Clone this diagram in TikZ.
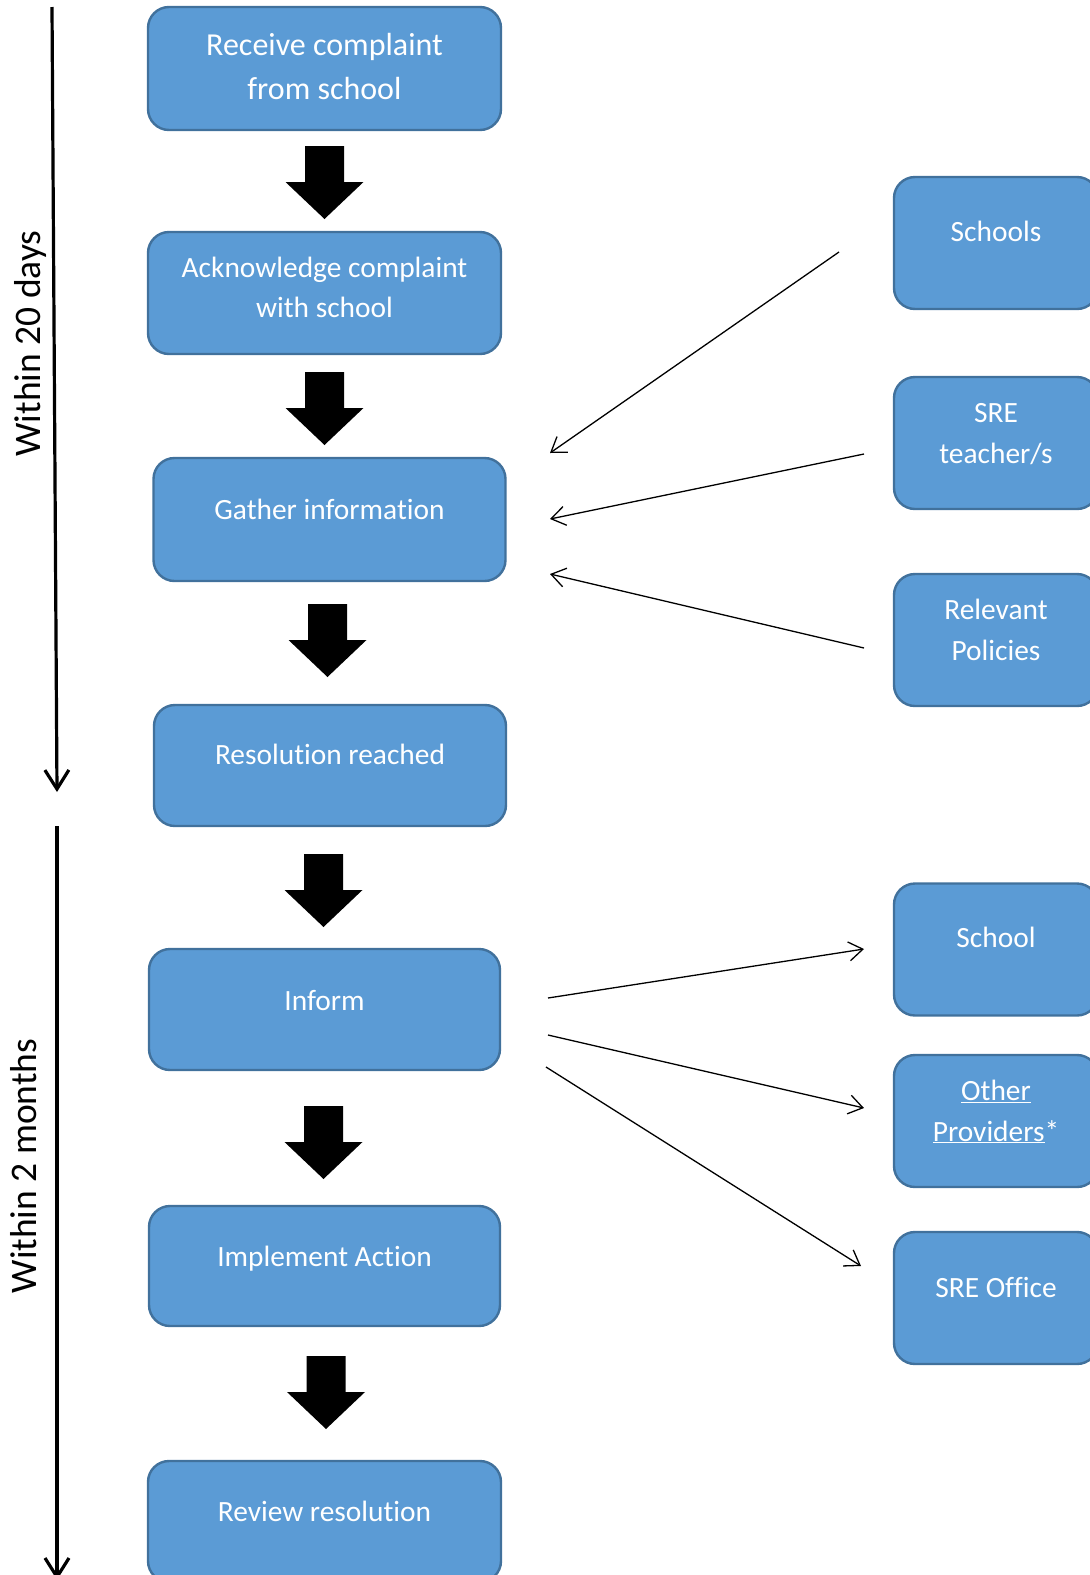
\documentclass[tikz,border=0pt]{standalone}
\usepackage{fontspec}
\setmainfont{Carlito}[Ligatures={NoCommon}]
\usetikzlibrary{arrows.meta}
\definecolor{boxfill}{HTML}{5B9BD5}
\definecolor{boxline}{HTML}{41719C}
\newcommand\blockarr[3]{% name, cx, top
  \fill[black] (#2-19.5,#3) -- (#2+19.5,#3) -- (#2+19.5,#3+36) -- (#2+39,#3+36)
    -- (#2,#3+73) -- (#2-39,#3+36) -- (#2-19.5,#3+36) -- cycle;
  \coordinate (#1) at (#2,#3);}
\begin{document}
\begin{tikzpicture}[x=1pt,y=-1pt,
  mbox/.style={draw=boxline, fill=boxfill, line width=2.4pt, rounded corners=21pt, inner sep=0pt},
  rbox/.style={mbox, minimum width=204pt, minimum height=132pt},
  wtxt/.style={text=white, anchor=base, inner sep=0pt, font=\fontsize{29.4}{40}\selectfont},
  btxt/.style={wtxt, font=\fontsize{32}{44}\selectfont},
  side/.style={anchor=base, rotate=90, inner sep=0pt, font=\fontsize{37.5}{45}\selectfont},
  timeline/.style={line width=3.2pt, -{Straight Barb[length=19pt,width=24pt,line width=3.2pt]}},
  thin/.style={line width=1.3pt, -{Straight Barb[length=14pt,width=19pt,line width=1.3pt]}}]
\useasboundingbox (0,0) rectangle (1090,1575);

% main boxes
\node[mbox, minimum width=353pt, minimum height=123pt] (b1) at (324.5,68.5) {};
\node[mbox, minimum width=353pt, minimum height=122pt] (b2) at (324.5,293) {};
\node[mbox, minimum width=352pt, minimum height=123pt] (b3) at (329.5,519.5) {};
\node[mbox, minimum width=352pt, minimum height=121pt] (b4) at (330,765.5) {};
\node[mbox, minimum width=351pt, minimum height=121pt] (b5) at (324.5,1009.5) {};
\node[mbox, minimum width=351pt, minimum height=120pt] (b6) at (324.5,1266) {};
\node[mbox, minimum width=353pt, minimum height=121pt] (b7) at (324.5,1521.5) {};

\node[btxt] (t1a) at (324.5,55) {Receive complaint};
\node[btxt] (t1b) at (324.5,99) {from school};
\node[wtxt] (t2a) at (324.5,277) {Acknowledge complaint};
\node[wtxt] (t2b) at (324.5,317) {with school};
\node[wtxt] (t3) at (329.5,519) {Gather information};
\node[wtxt] (t4) at (330,764.5) {Resolution reached};
\node[wtxt] (t5) at (324.5,1010.5) {Inform};
\node[wtxt] (t6) at (324.5,1266.5) {Implement Action};
\node[wtxt] (t7) at (324.5,1521.5) {Review resolution};

% block arrows
\blockarr{a1}{324.5}{146}
\blockarr{a2}{324.5}{372}
\blockarr{a3}{327.5}{604}
\blockarr{a4}{323.5}{854}
\blockarr{a5}{323.5}{1106}
\blockarr{a6}{326}{1356}

% right boxes
\node[rbox] (r1) at (996,243) {};
\node[rbox] (r2) at (996,443) {};
\node[rbox] (r3) at (996,640) {};
\node[rbox] (r4) at (996,949.5) {};
\node[rbox] (r5) at (996,1121) {};
\node[rbox] (r6) at (996,1298) {};

\node[wtxt] (s1) at (996,241.5) {Schools};
\node[wtxt] (s2a) at (996,422.5) {SRE};
\node[wtxt] (s2b) at (996,463) {teacher/s};
\node[wtxt] (s3a) at (996,619.5) {Relevant};
\node[wtxt] (s3b) at (996,660) {Policies};
\node[wtxt] (s4) at (996,947.5) {School};
\node[wtxt] (s5a) at (996,1100.5) {\underline{Other}};
\node[wtxt] (s5b) at (996,1141) {\underline{Providers}*};
\node[wtxt] (s6) at (996,1297.5) {SRE Office};

% thin connectors
\coordinate (c1s) at (839,252);  \coordinate (c1e) at (550,453);
\coordinate (c2s) at (864,454);  \coordinate (c2e) at (550,519);
\coordinate (c3s) at (864,648);  \coordinate (c3e) at (550,574);
\coordinate (d1s) at (548,998);  \coordinate (d1e) at (864,949);
\coordinate (d2s) at (548,1035); \coordinate (d2e) at (864,1108);
\coordinate (d3s) at (546,1067); \coordinate (d3e) at (861,1266);
\draw[thin] (c1s) -- (c1e);
\draw[thin] (c2s) -- (c2e);
\draw[thin] (c3s) -- (c3e);
\draw[thin] (d1s) -- (d1e);
\draw[thin] (d2s) -- (d2e);
\draw[thin] (d3s) -- (d3e);

% timelines
\coordinate (l1s) at (52,7);   \coordinate (l1e) at (57,792);
\coordinate (l2s) at (57,826); \coordinate (l2e) at (57,1580);
\draw[timeline] (l1s) -- (l1e);
\draw[timeline] (l2s) -- (l2e);
\node[side] (w1) at (40,343.5) {Within 20 days};
\node[side] (w2) at (36,1166) {Within 2 months};
\end{tikzpicture}
\end{document}
